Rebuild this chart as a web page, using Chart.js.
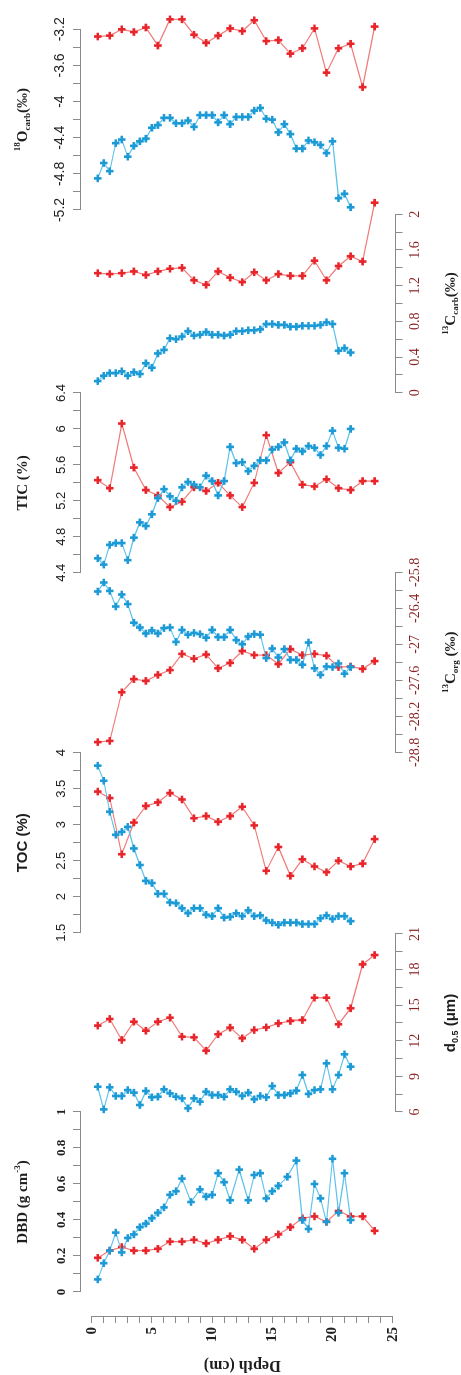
<!DOCTYPE html>
<html>
<head>
<meta charset="utf-8">
<script src="https://cdn.jsdelivr.net/npm/chart.js@4.4.1/dist/chart.umd.min.js"></script>
<style>
  html, body { margin: 0; padding: 0; background: #fff; overflow: hidden; }
  /* the figure is drawn landscape (1375 x 461) and turned a quarter to the left */
  #frame { position: absolute; left: 0; top: 0; width: 1375px; height: 461px;
           transform-origin: 0 0; transform: translate(0, 1375px) rotate(-90deg); }
  #frame canvas { position: absolute; left: 0; top: 0; }
</style>
</head>
<body>
<div id="frame"></div>
<script>
// sample depths (cm)
var depthRed = [0.5, 1.5, 2.5, 3.5, 4.5, 5.5, 6.5, 7.5, 8.5, 9.5, 10.5, 11.5,
  12.5, 13.5, 14.5, 15.5, 16.5, 17.5, 18.5, 19.5, 20.5, 21.5, 22.5, 23.5];
var depthBlue = [0.5, 1, 1.5, 2, 2.5, 3, 3.5, 4, 4.5, 5, 5.5, 6, 6.5, 7, 7.5, 8,
  8.5, 9, 9.5, 10, 10.5, 11, 11.5, 12, 12.5, 13, 13.5, 14, 14.5, 15, 15.5, 16,
  16.5, 17, 17.5, 18, 18.5, 19, 19.5, 20, 20.5, 21, 21.5];
var depthBlueDBD = [0.5, 1, 1.5, 2, 2.5, 3, 3.5, 4, 4.5, 5, 5.5, 6, 6.5, 7, 7.5,
  8.25, 9, 9.5, 10, 10.5, 11, 11.5, 12.25, 13, 13.5, 14, 14.5, 15, 15.5, 16.25,
  17, 17.5, 18, 18.5, 19, 19.5, 20, 20.5, 21, 21.5];

// DBD (g cm-3)
var dbdRed = [0.19, 0.23, 0.25, 0.23, 0.23, 0.24, 0.28, 0.28, 0.29, 0.27, 0.29, 0.31,
  0.29, 0.24, 0.29, 0.32, 0.36, 0.41, 0.42, 0.39, 0.45, 0.42, 0.42, 0.34];
var dbdBlue = [0.07, 0.16, 0.23, 0.33, 0.22, 0.30, 0.32, 0.36, 0.38, 0.41, 0.44, 0.47,
  0.54, 0.56, 0.63, 0.50, 0.57, 0.53, 0.54, 0.66, 0.61, 0.51, 0.68, 0.51, 0.65, 0.66,
  0.52, 0.56, 0.59, 0.64, 0.73, 0.40, 0.35, 0.60, 0.52, 0.39, 0.74, 0.44, 0.66, 0.40];

// d0.5 (um)
var d05Red = [13.28, 13.84, 12.07, 13.61, 12.85, 13.61, 13.95, 12.35, 12.29, 11.17, 12.55,
  13.11, 12.21, 12.91, 13.13, 13.47, 13.67, 13.75, 15.63, 15.63, 13.39, 14.74, 18.44, 19.23];
var d05Blue = [8.13, 6.22, 8.08, 7.35, 7.35, 7.85, 7.63, 6.59, 7.77, 7.24, 7.29, 7.91,
  7.57, 7.29, 7.15, 6.31, 7.15, 6.87, 7.71, 7.43, 7.43, 7.29, 7.91, 7.71, 7.35, 7.63,
  7.07, 7.35, 7.24, 8.19, 7.43, 7.43, 7.57, 7.80, 9.12, 7.52, 7.85, 7.91, 10.10, 7.91,
  9.12, 10.86, 9.82];

// TOC (%)
var tocRed = [3.46, 3.37, 2.59, 3.03, 3.26, 3.31, 3.44, 3.35, 3.09, 3.12, 3.04, 3.12,
  3.25, 2.99, 2.36, 2.69, 2.29, 2.52, 2.42, 2.34, 2.50, 2.42, 2.46, 2.80];
var tocBlue = [3.82, 3.61, 3.18, 2.86, 2.90, 2.97, 2.67, 2.44, 2.22, 2.19, 2.04, 2.04,
  1.92, 1.91, 1.84, 1.77, 1.84, 1.84, 1.75, 1.73, 1.84, 1.71, 1.72, 1.77, 1.73, 1.81,
  1.73, 1.74, 1.67, 1.64, 1.61, 1.64, 1.64, 1.64, 1.62, 1.62, 1.62, 1.70, 1.74, 1.69,
  1.73, 1.73, 1.66];

// d13C org (permil)
var corgRed = [-28.63, -28.61, -27.80, -27.58, -27.61, -27.51, -27.43, -27.16, -27.24,
  -27.17, -27.40, -27.31, -27.11, -27.18, -27.18, -27.33, -27.08, -27.18, -27.16,
  -27.19, -27.38, -27.37, -27.41, -27.28];
var corgBlue = [-26.12, -25.97, -26.11, -26.37, -26.17, -26.33, -26.64, -26.72, -26.82,
  -26.77, -26.82, -26.73, -26.72, -26.96, -26.76, -26.84, -26.81, -26.83, -26.89,
  -26.76, -26.88, -26.88, -26.76, -26.93, -27.00, -26.87, -26.83, -26.84, -27.23,
  -27.07, -27.22, -27.08, -27.26, -27.26, -27.34, -26.97, -27.40, -27.51, -27.37,
  -27.38, -27.32, -27.49, -27.38];

// TIC (%)
var ticRed = [5.43, 5.34, 6.06, 5.57, 5.32, 5.26, 5.13, 5.19, 5.35, 5.31, 5.40, 5.26,
  5.13, 5.40, 5.93, 5.51, 5.63, 5.38, 5.36, 5.44, 5.34, 5.32, 5.42, 5.42];
var ticBlue = [4.56, 4.49, 4.71, 4.73, 4.73, 4.54, 4.79, 4.96, 4.92, 5.05, 5.23, 5.33,
  5.25, 5.20, 5.35, 5.41, 5.38, 5.35, 5.48, 5.42, 5.26, 5.42, 5.80, 5.62, 5.63, 5.53,
  5.59, 5.65, 5.65, 5.77, 5.80, 5.85, 5.65, 5.78, 5.75, 5.81, 5.79, 5.71, 5.81, 5.98,
  5.79, 5.78, 6.00];

// d13C carb (permil)
var ccarbRed = [1.34, 1.33, 1.34, 1.36, 1.32, 1.36, 1.39, 1.40, 1.26, 1.21, 1.36, 1.29,
  1.24, 1.35, 1.26, 1.33, 1.31, 1.31, 1.48, 1.26, 1.42, 1.53, 1.47, 2.13];
var ccarbBlue = [0.13, 0.19, 0.22, 0.22, 0.24, 0.19, 0.23, 0.21, 0.33, 0.28, 0.44, 0.48,
  0.61, 0.60, 0.63, 0.69, 0.64, 0.65, 0.68, 0.65, 0.65, 0.64, 0.65, 0.69, 0.69, 0.70,
  0.70, 0.71, 0.77, 0.77, 0.76, 0.76, 0.74, 0.74, 0.75, 0.75, 0.75, 0.76, 0.79, 0.77,
  0.47, 0.50, 0.45];

// d18O carb (permil)
var ocarbRed = [-3.28, -3.27, -3.20, -3.23, -3.18, -3.38, -3.09, -3.09, -3.26, -3.35,
  -3.27, -3.19, -3.22, -3.10, -3.33, -3.32, -3.47, -3.41, -3.19, -3.68, -3.41, -3.36,
  -3.84, -3.17];
var ocarbBlue = [-4.85, -4.68, -4.77, -4.46, -4.42, -4.61, -4.49, -4.44, -4.41, -4.29,
  -4.26, -4.18, -4.18, -4.24, -4.24, -4.21, -4.28, -4.15, -4.15, -4.15, -4.23, -4.15,
  -4.25, -4.17, -4.17, -4.17, -4.10, -4.07, -4.19, -4.20, -4.34, -4.25, -4.36, -4.52,
  -4.52, -4.43, -4.45, -4.48, -4.57, -4.44, -5.07, -5.02, -5.17];

// labelled ticks
var depthTicks = [0, 1, 2, 3, 4, 5, 6, 7, 8, 9, 10, 11, 12, 13, 14, 15, 16, 17, 18, 19,
  20, 21, 22, 23, 24, 25];
var depthLabels = [0, 5, 10, 15, 20, 25];
var dbdTicks = [0, 0.2, 0.4, 0.6, 0.8, 1];
var d05Ticks = [6, 9, 12, 15, 18, 21];
var tocTicks = [1.5, 2, 2.5, 3, 3.5, 4];
var corgTicks = [-28.8, -28.2, -27.6, -27, -26.4, -25.8];
var ticTicks = [4.4, 4.8, 5.2, 5.6, 6, 6.4];
var ccarbTicks = [0, 0.4, 0.8, 1.2, 1.6, 2];
var ocarbTicks = [-5.2, -4.8, -4.4, -4, -3.6, -3.2];

var RED = "#e8252b", RED_LINE = "#f07a78";
var BLUE = "#1c9ad6", BLUE_LINE = "#5cc2ea";
var AXIS = "#8a8a8a";
var SERIF = "'Liberation Serif', serif";
var SANS = "'Liberation Sans', sans-serif";

var W = 1375, H = 461;
var AXIS_TOP = 80, AXIS_BOTTOM = 395.5;
var DEPTH_MIN = -0.97, DEPTH_MAX = 25.23;

Chart.defaults.font.family = SANS;

// axis titles with super/subscripts
Chart.register({
  id: "richTitle",
  afterDraw: function (chart, args, opts) {
    if (!opts.parts) return;
    var ctx = chart.ctx;
    var big = "bold " + opts.size + "px " + opts.family;
    var small = "bold " + Math.round(opts.size * 0.62) + "px " + opts.family;
    ctx.save();
    ctx.fillStyle = "#1e1e1e";
    ctx.textBaseline = "middle";
    var total = 0;
    opts.parts.forEach(function (p) {
      ctx.font = p.s ? small : big;
      total += ctx.measureText(p.t).width;
    });
    var x = (chart.chartArea.left + chart.chartArea.right) / 2 - total / 2;
    opts.parts.forEach(function (p) {
      ctx.font = p.s ? small : big;
      var dy = p.s === "sup" ? -opts.size * 0.38 : (p.s === "sub" ? opts.size * 0.3 : 0);
      ctx.fillText(p.t, x, opts.y + dy);
      x += ctx.measureText(p.t).width;
    });
    ctx.restore();
  }
});

// points beyond an axis end (e.g. 2.13 on the 0-2 axis) are still drawn in the
// original, so widen the area only while the datasets are painted
Chart.register({
  id: "noPointCull",
  beforeDatasetsDraw: function (chart) {
    chart._realArea = chart.chartArea;
    chart.chartArea = { left: -5000, top: -5000, right: 5000, bottom: 5000, width: 10000, height: 10000 };
  },
  afterDatasetsDraw: function (chart) {
    if (chart._realArea) chart.chartArea = chart._realArea;
  }
});

function pts(depths, values) {
  return values.map(function (v, i) { return { x: v, y: depths[i] }; });
}

function withMinor(majors) {
  var out = [];
  for (var i = 0; i < majors.length; i++) {
    out.push(majors[i]);
    if (i < majors.length - 1) out.push((majors[i] + majors[i + 1]) / 2);
  }
  return out;
}

function isMajor(majors, v) {
  return majors.some(function (m) { return Math.abs(m - v) < 1e-9; });
}

function series(depths, values, mark, line) {
  return {
    data: pts(depths, values),
    showLine: true,
    borderColor: line,
    borderWidth: 1.2,
    pointStyle: "cross",
    pointRadius: 3.8,
    pointBorderWidth: 2.6,
    pointBorderColor: mark,
    pointBackgroundColor: mark,
    clip: false
  };
}

var frame = document.getElementById("frame");

function newCanvas() {
  var c = document.createElement("canvas");
  c.width = W;
  c.height = H;
  frame.appendChild(c);
  return c;
}

function makePanel(p) {
  var top = p.side === "top";
  var majors = p.ticks;
  new Chart(newCanvas(), {
    type: "scatter",
    data: {
      datasets: [
        series(p.blueDepth || depthBlue, p.blue, BLUE, BLUE_LINE),
        series(depthRed, p.red, RED, RED_LINE)
      ]
    },
    options: {
      responsive: false,
      animation: false,
      devicePixelRatio: 1,
      layout: {
        padding: {
          left: p.from, right: W - p.to,
          top: top ? 0 : AXIS_TOP,
          bottom: top ? H - AXIS_BOTTOM : 0
        }
      },
      plugins: {
        legend: { display: false },
        tooltip: { enabled: false },
        richTitle: { parts: p.title, family: p.titleFont, size: 15, y: top ? 23 : 451 }
      },
      scales: {
        x: {
          type: "linear",
          position: p.side,
          min: majors[0],
          max: majors[majors.length - 1],
          afterBuildTicks: function (s) {
            s.ticks = withMinor(majors).map(function (v) { return { value: v }; });
          },
          afterFit: function (s) { s.height = top ? AXIS_TOP : H - AXIS_BOTTOM; },
          grid: { drawOnChartArea: false, tickLength: 7, color: AXIS },
          border: { color: AXIS },
          ticks: {
            autoSkip: false, maxRotation: 0, minRotation: 0, padding: 4,
            color: top ? "#222" : "#8b2222",
            font: p.tickFont,
            callback: function (v) {
              return isMajor(majors, v) ? String(Math.round(v * 100) / 100) : "";
            }
          }
        },
        y: { type: "linear", display: false, reverse: true, min: DEPTH_MIN, max: DEPTH_MAX }
      }
    }
  });
}

// depth axis
new Chart(newCanvas(), {
  type: "scatter",
  data: { datasets: [] },
  options: {
    responsive: false,
    animation: false,
    devicePixelRatio: 1,
    layout: { padding: { left: 0, right: W - 80, top: 91.7, bottom: H - 392.7 } },
    plugins: { legend: { display: false }, tooltip: { enabled: false } },
    scales: {
      x: { type: "linear", display: false, min: 0, max: 1 },
      y: {
        type: "linear",
        position: "left",
        min: 0,
        max: 25,
        reverse: true,
        afterBuildTicks: function (s) {
          s.ticks = depthTicks.map(function (v) { return { value: v }; });
        },
        afterFit: function (s) { s.width = 58; },
        grid: { drawOnChartArea: false, tickLength: 6, color: AXIS },
        border: { color: AXIS },
        ticks: {
          autoSkip: false, padding: 4, color: "#222",
          font: { family: SERIF, weight: "bold", size: 15 },
          callback: function (v) { return depthLabels.indexOf(v) >= 0 ? String(v) : ""; }
        },
        title: {
          display: true, text: "Depth (cm)", color: "#1e1e1e", padding: 0,
          font: { family: SERIF, weight: "bold", size: 16 }
        }
      }
    }
  }
});

makePanel({
  side: "top", from: 83, to: 263, ticks: dbdTicks,
  red: dbdRed, blue: dbdBlue, blueDepth: depthBlueDBD,
  tickFont: { family: SERIF, weight: "bold", size: 13 }, titleFont: SERIF,
  title: [{ t: "DBD (g cm" }, { t: "-3", s: "sup" }, { t: ")" }]
});
makePanel({
  side: "bottom", from: 263, to: 441, ticks: d05Ticks,
  red: d05Red, blue: d05Blue,
  tickFont: { family: SERIF, size: 14 }, titleFont: SANS,
  title: [{ t: "d" }, { t: "0.5", s: "sub" }, { t: " (\u03bcm)" }]
});
makePanel({
  side: "top", from: 442.3, to: 622.3, ticks: tocTicks,
  red: tocRed, blue: tocBlue,
  tickFont: { family: SANS, size: 13 }, titleFont: SANS,
  title: [{ t: "TOC (%)" }]
});
makePanel({
  side: "bottom", from: 622.7, to: 802.7, ticks: corgTicks,
  red: corgRed, blue: corgBlue,
  tickFont: { family: SERIF, size: 14 }, titleFont: SERIF,
  title: [{ t: "13", s: "sup" }, { t: "C" }, { t: "org", s: "sub" }, { t: " (\u2030)" }]
});
makePanel({
  side: "top", from: 802.3, to: 982, ticks: ticTicks,
  red: ticRed, blue: ticBlue,
  tickFont: { family: SANS, size: 13 }, titleFont: SERIF,
  title: [{ t: "TIC (%)" }]
});
makePanel({
  side: "bottom", from: 982.3, to: 1160.7, ticks: ccarbTicks,
  red: ccarbRed, blue: ccarbBlue,
  tickFont: { family: SERIF, size: 14 }, titleFont: SERIF,
  title: [{ t: "13", s: "sup" }, { t: "C" }, { t: "carb", s: "sub" }, { t: "(\u2030)" }]
});
makePanel({
  side: "top", from: 1165, to: 1345.7, ticks: ocarbTicks,
  red: ocarbRed, blue: ocarbBlue,
  tickFont: { family: SANS, size: 14 }, titleFont: SERIF,
  title: [{ t: "18", s: "sup" }, { t: "O" }, { t: "carb", s: "sub" }, { t: "(\u2030)" }]
});
</script>
</body>
</html>
